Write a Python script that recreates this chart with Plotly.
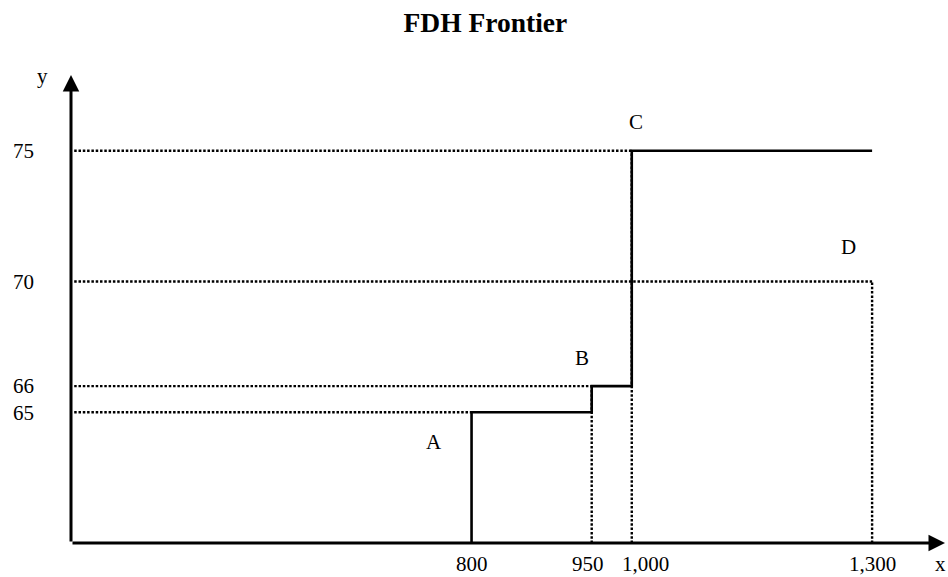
import plotly.graph_objects as go

# ---- data ----
frontier_x = [800, 800, 950, 950, 1000, 1000, 1300]
frontier_y = [60, 65, 65, 66, 66, 75, 75]

points = ["A", "B", "C", "D"]
point_x = [800, 950, 1000, 1300]
point_y = [65, 66, 75, 70]

x_ticks = [800, 950, 1000, 1300]
x_ticktext = ["800", "950", "1,000", "1,300"]
y_ticks = [65, 66, 70, 75]
y_ticktext = ["65", "66", "70", "75"]

x0, y0 = 300, 60          # origin of the diagram
x_end, y_end = 1391, 77.9  # axis extents

FONT = "Liberation Serif, Times New Roman, serif"

fig = go.Figure()

# dotted guide lines
dot_style = dict(color="black", width=2.4, dash="2.5px,1.8px")
for px, py in zip(point_x, point_y):
    fig.add_trace(go.Scatter(x=[x0 + 4, px], y=[py, py], mode="lines",
                             line=dot_style, hoverinfo="skip", showlegend=False))
for px, py in zip(point_x[1:], point_y[1:]):
    fig.add_trace(go.Scatter(x=[px, px], y=[y0, py], mode="lines",
                             line=dot_style, hoverinfo="skip", showlegend=False))

# frontier
fig.add_trace(go.Scatter(x=frontier_x, y=frontier_y, mode="lines",
                         line=dict(color="black", width=2.6),
                         hoverinfo="skip", showlegend=False))

annotations = []
# axes with arrows
annotations.append(dict(x=x_end, y=y0, ax=x0, ay=y0, xref="x", yref="y",
                        axref="x", ayref="y", showarrow=True, arrowhead=2,
                        arrowsize=1.1, arrowwidth=3, arrowcolor="black", text=""))
annotations.append(dict(x=x0, y=y_end, ax=x0, ay=y0, xref="x", yref="y",
                        axref="x", ayref="y", showarrow=True, arrowhead=2,
                        arrowsize=1.1, arrowwidth=3, arrowcolor="black", text=""))

# x tick labels (small horizontal nudges so neighbours don't collide)
tick_shift = {"800": 0, "950": -4, "1,000": 14, "1,300": 0}
for tv, tt in zip(x_ticks, x_ticktext):
    annotations.append(dict(x=tv, y=y0, xref="x", yref="y", text=tt, showarrow=False,
                            xshift=tick_shift[tt], yshift=-21, borderpad=0,
                            font=dict(family=FONT, size=21, color="black")))

# point labels (offset from the points)
label_offsets = {"A": (-38, 30), "B": (-10, -28), "C": (4, -29), "D": (-24, -35)}
for name, px, py in zip(points, point_x, point_y):
    dx, dy = label_offsets[name]
    annotations.append(dict(x=px, y=py, xref="x", yref="y", text=name,
                            showarrow=False, xshift=dx, yshift=-dy,
                            font=dict(family=FONT, size=21, color="black")))

# axis titles
annotations.append(dict(x=x0, y=y_end, xref="x", yref="y", text="y", showarrow=False,
                        xshift=-29, yshift=-1,
                        font=dict(family=FONT, size=21, color="black")))
annotations.append(dict(x=x_end, y=y0, xref="x", yref="y", text="x", showarrow=False,
                        xshift=-5, yshift=-21, borderpad=0,
                        font=dict(family=FONT, size=21, color="black")))

fig.update_layout(
    width=948, height=577,
    margin=dict(l=71, r=3, t=75, b=34),
    paper_bgcolor="white", plot_bgcolor="white",
    title=dict(text="<b>FDH Frontier</b>", x=0.512, xanchor="center", y=0.962,
               yanchor="middle", font=dict(family=FONT, size=27.5, color="black")),
    xaxis=dict(range=[x0, x_end], showticklabels=False,
               showgrid=False, zeroline=False, showline=False, ticks="",
               automargin=False),
    yaxis=dict(range=[y0, y_end], tickvals=y_ticks, ticktext=y_ticktext,
               showgrid=False, zeroline=False, showline=False, ticks="",
               ticklabelstandoff=36, automargin=False,
               tickfont=dict(family=FONT, size=21, color="black")),
    annotations=annotations,
    showlegend=False,
)

fig.write_html("out.html", config={"displayModeBar": False},
               post_script="document.body.style.margin='0';document.body.style.overflow='hidden';")
